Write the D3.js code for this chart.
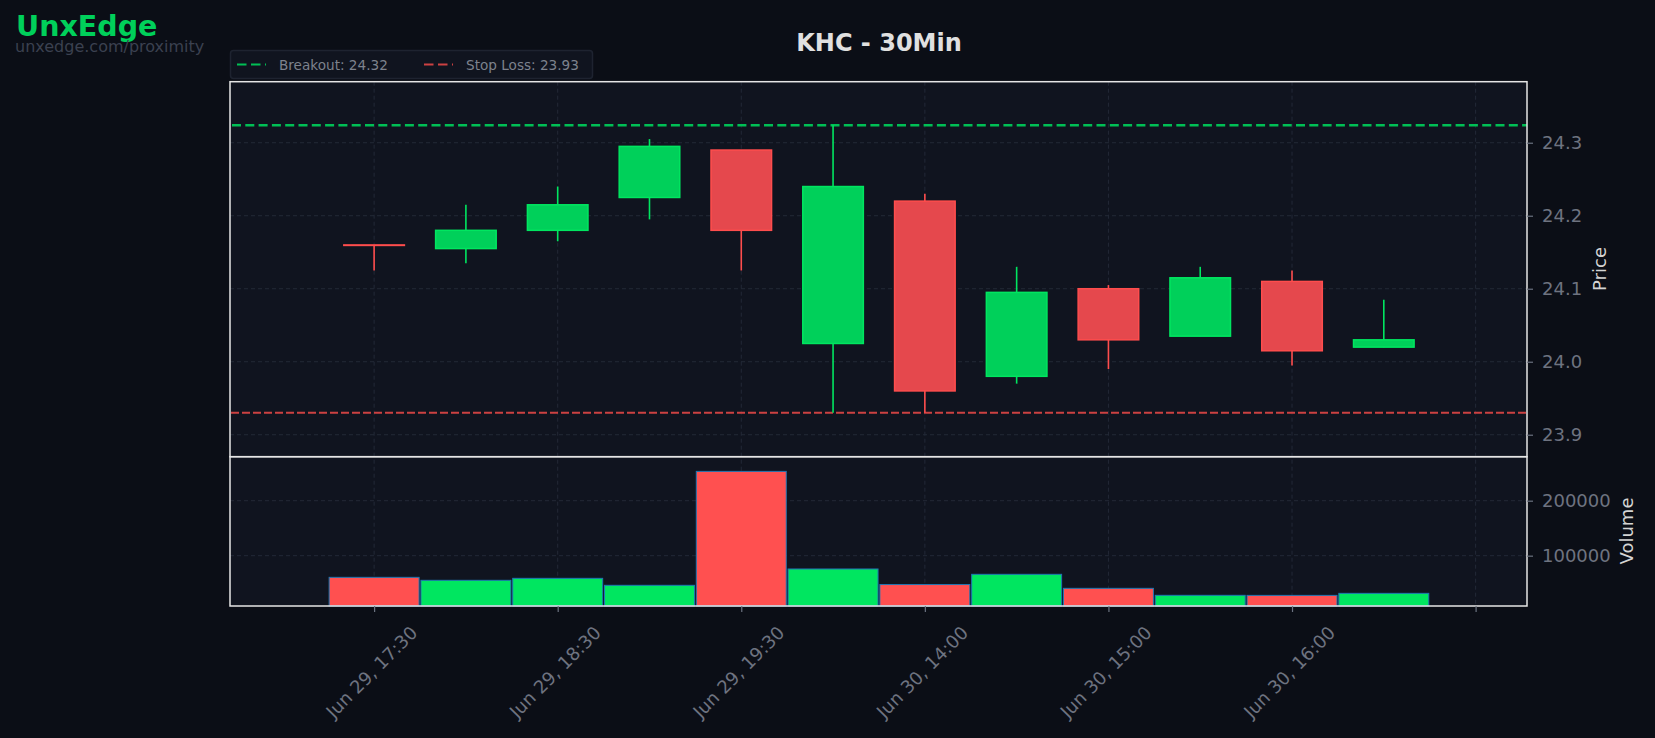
<!DOCTYPE html>
<html>
<head>
<meta charset="utf-8">
<script src="https://cdn.jsdelivr.net/npm/d3@7"></script>
<style>
  html, body { margin: 0; padding: 0; background: #0b0e16; }
  svg { display: block; font-family: "DejaVu Sans", sans-serif; }
</style>
</head>
<body>
<svg id="chart" width="1655" height="738"></svg>
<script>
// candle data
var times  = ['Jun 29, 17:30', 'Jun 29, 18:00', 'Jun 29, 18:30', 'Jun 29, 19:00', 'Jun 29, 19:30', 'Jun 29, 20:00',
              'Jun 30, 14:00', 'Jun 30, 14:30', 'Jun 30, 15:00', 'Jun 30, 15:30', 'Jun 30, 16:00', 'Jun 30, 16:30'];
var open   = [24.16, 24.155, 24.18, 24.225, 24.29, 24.025, 24.22, 23.98, 24.10, 24.035, 24.11, 24.02];
var high   = [24.16, 24.215, 24.24, 24.305, 24.29, 24.324, 24.23, 24.13, 24.105, 24.13, 24.125, 24.085];
var low    = [24.125, 24.135, 24.165, 24.195, 24.125, 23.93, 23.93, 23.97, 23.99, 24.035, 23.995, 24.02];
var close  = [24.16, 24.18, 24.215, 24.295, 24.18, 24.24, 23.96, 24.095, 24.03, 24.115, 24.015, 24.03];
var volume = [60600, 55200, 58800, 46100, 253300, 75800, 47500, 66100, 40600, 27900, 27800, 31500];

var xTickIdx    = [0, 2, 4, 6, 8, 10, 12];
var xTickLabels = ['Jun 29, 17:30', 'Jun 29, 18:30', 'Jun 29, 19:30', 'Jun 30, 14:00', 'Jun 30, 15:00', 'Jun 30, 16:00', ''];
var priceTicks  = [23.9, 24.0, 24.1, 24.2, 24.3];
var volumeTicks = [100000, 200000];

var breakout = 24.324, stopLoss = 23.93;

var candles = times.map(function(t, i) {
  return { i: i, t: t, o: open[i], h: high[i], l: low[i], c: close[i], v: volume[i] };
});

var svg = d3.select('#chart');

var left = 230, right = 1527, priceTop = 81.7, priceBottom = 456.7, volBottom = 606;

var x = d3.scaleLinear().domain([-1.57, 12.56]).range([left, right]);
var step = x(1) - x(0);
var yP = d3.scaleLinear().domain([23.8699, 24.3836]).range([priceBottom, priceTop]);
var yV = d3.scaleLinear().domain([8485, 280000]).range([volBottom, priceBottom]);

var up = function(d) { return d.c > d.o; };

// panel backgrounds
svg.append('rect').attr('x', left).attr('y', priceTop).attr('width', right - left)
  .attr('height', volBottom - priceTop).attr('fill', '#10141f');

// grid
var grid = svg.append('g').attr('stroke', '#232937').attr('stroke-width', 1).attr('stroke-dasharray', '4,3');
grid.selectAll('.gx').data(xTickIdx).enter().append('line')
  .attr('x1', function(d) { return x(d); }).attr('x2', function(d) { return x(d); })
  .attr('y1', priceTop).attr('y2', volBottom);
grid.selectAll('.gp').data(priceTicks).enter().append('line')
  .attr('x1', left).attr('x2', right)
  .attr('y1', function(d) { return yP(d); }).attr('y2', function(d) { return yP(d); });
grid.selectAll('.gv').data(volumeTicks).enter().append('line')
  .attr('x1', left).attr('x2', right)
  .attr('y1', function(d) { return yV(d); }).attr('y2', function(d) { return yV(d); });

// breakout / stop loss levels
svg.append('line').attr('x1', left + 2).attr('x2', right)
  .attr('y1', yP(breakout)).attr('y2', yP(breakout))
  .attr('stroke', '#00bf55').attr('stroke-width', 2.5).attr('stroke-dasharray', '9,4.3');
svg.append('line').attr('x1', left + 1).attr('x2', right)
  .attr('y1', yP(stopLoss)).attr('y2', yP(stopLoss))
  .attr('stroke', '#cc4142').attr('stroke-width', 2).attr('stroke-dasharray', '8,3');

// wicks
svg.append('g').selectAll('line').data(candles).enter().append('line')
  .attr('x1', function(d) { return x(d.i); }).attr('x2', function(d) { return x(d.i); })
  .attr('y1', function(d) { return yP(d.h); }).attr('y2', function(d) { return yP(d.l); })
  .attr('stroke', function(d) { return up(d) ? '#00e660' : '#ff4d4d'; })
  .attr('stroke-width', 1.6);

// bodies
var bw = step * 0.66;
svg.append('g').selectAll('rect').data(candles).enter().append('rect')
  .attr('x', function(d) { return x(d.i) - bw / 2; })
  .attr('width', bw)
  .attr('y', function(d) { return yP(Math.max(d.o, d.c)); })
  .attr('height', function(d) { return Math.max(Math.abs(yP(d.o) - yP(d.c)), 0.5); })
  .attr('fill', function(d) { return up(d) ? '#00d05a' : '#e5484d'; })
  .attr('stroke', function(d) { return up(d) ? '#00e660' : '#ff4d4d'; })
  .attr('stroke-width', 1.5);

// volume bars
var vw = step * 0.98;
svg.append('g').selectAll('rect').data(candles).enter().append('rect')
  .attr('x', function(d) { return x(d.i) - vw / 2; })
  .attr('width', vw)
  .attr('y', function(d) { return yV(d.v); })
  .attr('height', function(d) { return volBottom - yV(d.v); })
  .attr('fill', function(d) { return up(d) ? '#00e660' : '#ff5050'; })
  .attr('stroke', '#1f77b4').attr('stroke-width', 1);

// panel borders
svg.append('rect').attr('x', left).attr('y', priceTop).attr('width', right - left)
  .attr('height', priceBottom - priceTop).attr('fill', 'none').attr('stroke', '#e6e6e6').attr('stroke-width', 1.5);
svg.append('rect').attr('x', left).attr('y', priceBottom).attr('width', right - left)
  .attr('height', volBottom - priceBottom).attr('fill', 'none').attr('stroke', '#e6e6e6').attr('stroke-width', 1.5);

// axes
function styleAxis(g) {
  g.select('.domain').remove();
  g.selectAll('.tick line').attr('stroke', '#6b7280').attr('stroke-width', 1.2);
  g.selectAll('.tick text').attr('fill', '#6e7380').style('font-size', '18px')
    .style('font-family', '"DejaVu Sans", sans-serif');
}

svg.append('g').attr('transform', 'translate(' + right + ',0)')
  .call(d3.axisRight(yP).tickValues(priceTicks).tickFormat(d3.format('.1f')).tickSize(6).tickPadding(9))
  .call(styleAxis);

svg.append('g').attr('transform', 'translate(' + right + ',0)')
  .call(d3.axisRight(yV).tickValues(volumeTicks).tickFormat(d3.format('d')).tickSize(6).tickPadding(9))
  .call(styleAxis);

var xAxis = svg.append('g').attr('transform', 'translate(0,' + volBottom + ')')
  .call(d3.axisBottom(x).tickValues(xTickIdx)
    .tickFormat(function(d, i) { return xTickLabels[i]; }).tickSize(6))
  .call(styleAxis);
xAxis.selectAll('.tick text')
  .attr('y', 0).attr('dy', '0.35em')
  .attr('text-anchor', 'middle')
  .attr('transform', 'translate(-3,66) rotate(-45)')
  .style('font-size', '18px');

// axis titles
svg.append('text').attr('transform', 'translate(1600,269) rotate(-90)')
  .attr('text-anchor', 'middle').attr('dy', '0.35em')
  .attr('fill', '#d4d4d4').style('font-size', '18px').text('Price');
svg.append('text').attr('transform', 'translate(1627,531) rotate(-90)')
  .attr('text-anchor', 'middle').attr('dy', '0.35em')
  .attr('fill', '#d4d4d4').style('font-size', '18px').text('Volume');

// title + brand
svg.append('text').attr('x', 879).attr('y', 50.5).attr('text-anchor', 'middle')
  .attr('fill', '#e0e0e0').style('font-size', '24px').style('font-weight', 'bold')
  .text('KHC - 30Min');
svg.append('text').attr('x', 16).attr('y', 36)
  .attr('fill', '#00d05a').style('font-size', '28.5px').style('font-weight', 'bold')
  .text('UnxEdge');
svg.append('text').attr('x', 15).attr('y', 51.5)
  .attr('fill', '#3b4150').style('font-size', '16px')
  .text('unxedge.com/proximity');

// legend
var legend = svg.append('g');
legend.append('rect').attr('x', 230.5).attr('y', 50.5).attr('width', 362).attr('height', 28).attr('rx', 3)
  .attr('fill', '#10141f').attr('stroke', '#1e2330').attr('stroke-width', 1.5);
var legendItems = [
  { label: 'Breakout: ' + breakout.toFixed(2), color: '#00bf55', x: 237 },
  { label: 'Stop Loss: ' + stopLoss.toFixed(2), color: '#cc4142', x: 424 }
];
var li = legend.selectAll('.item').data(legendItems).enter().append('g');
li.append('line').attr('x1', function(d) { return d.x; }).attr('x2', function(d) { return d.x + 29; })
  .attr('y1', 64.5).attr('y2', 64.5)
  .attr('stroke', function(d) { return d.color; }).attr('stroke-width', 2).attr('stroke-dasharray', '9.5,4.5');
li.append('text').attr('x', function(d) { return d.x + 42; }).attr('y', 69.5)
  .attr('fill', '#7d828d').style('font-size', '13.6px')
  .text(function(d) { return d.label; });
</script>
</body>
</html>
